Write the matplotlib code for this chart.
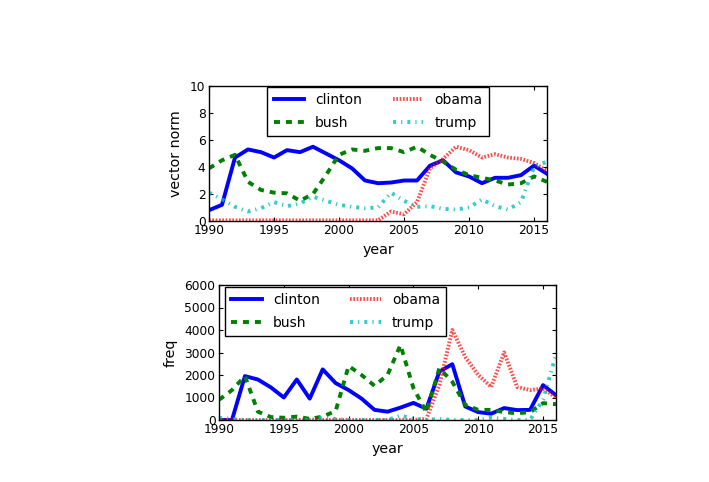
import matplotlib
matplotlib.use("Agg")
import matplotlib.pyplot as plt
import numpy as np

years = list(range(1990, 2017))

norm_clinton = [0.8, 1.2, 4.7, 5.3, 5.1, 4.7, 5.25, 5.1, 5.5, 5.0, 4.5, 3.9, 3.0, 2.8, 2.85, 3.0, 3.0, 4.1, 4.5, 3.6, 3.3, 2.8, 3.2, 3.2, 3.4, 4.1, 3.5]
norm_bush = [3.9, 4.5, 4.9, 2.9, 2.3, 2.1, 2.05, 1.5, 2.0, 3.4, 4.9, 5.3, 5.2, 5.4, 5.4, 5.1, 5.5, 4.9, 4.4, 3.8, 3.4, 3.2, 3.0, 2.7, 2.8, 3.3, 2.9]
norm_obama = [0.05, 0.05, 0.05, 0.05, 0.05, 0.05, 0.05, 0.05, 0.05, 0.05, 0.05, 0.05, 0.05, 0.05, 0.7, 0.5, 1.4, 3.9, 4.6, 5.5, 5.25, 4.7, 4.95, 4.7, 4.6, 4.3, 3.7]
norm_trump = [2.1, 1.6, 1.05, 0.7, 0.95, 1.4, 1.1, 1.3, 1.8, 1.5, 1.2, 1.05, 0.95, 1.0, 2.1, 1.5, 1.05, 1.1, 0.9, 0.85, 1.0, 1.6, 1.1, 0.85, 1.4, 4.0, 4.4]

freq_clinton = [0, 0, 1950, 1800, 1450, 1000, 1800, 950, 2250, 1640, 1330, 950, 450, 370, 550, 760, 500, 2150, 2480, 600, 350, 280, 530, 440, 450, 1550, 1100]
freq_bush = [900, 1330, 1950, 370, 130, 100, 150, 50, 150, 400, 2400, 2000, 1520, 2000, 3330, 1420, 350, 2300, 1700, 670, 450, 450, 350, 300, 350, 750, 700]
freq_obama = [0, 0, 0, 0, 0, 0, 0, 0, 0, 0, 0, 0, 0, 0, 0, 0, 50, 1550, 4000, 2800, 2000, 1470, 3000, 1470, 1330, 1400, 1000]
freq_trump = [100, 50, 0, 0, 0, 0, 0, 0, 100, 50, 0, 0, 0, 0, 200, 50, 0, 50, 0, 0, 0, 100, 50, 0, 0, 900, 2900]

names = ["clinton", "bush", "obama", "trump"]
colors = ["b", "g", "r", "c"]
styles = ["-", (0, (4.3, 4.3)), (0, (1.2, 1.2)), (0, (2.2, 3.6, 0.9, 3.6))]
alphas = [1.0, 1.0, 0.7, 0.8]

plt.rcParams["font.family"] = "DejaVu Sans"
plt.rcParams["lines.scale_dashes"] = False
plt.rcParams["lines.dash_capstyle"] = "butt"
plt.rcParams["xtick.direction"] = "in"
plt.rcParams["ytick.direction"] = "in"
plt.rcParams["xtick.top"] = True
plt.rcParams["ytick.right"] = True
plt.rcParams["xtick.major.size"] = 3
plt.rcParams["ytick.major.size"] = 3
plt.rcParams["xtick.major.pad"] = 2.5
plt.rcParams["ytick.major.pad"] = 2.5
plt.rcParams["xtick.labelsize"] = 8.8
plt.rcParams["ytick.labelsize"] = 8.8
plt.rcParams["axes.labelsize"] = 10.3

fig = plt.figure(figsize=(7.09, 4.82), dpi=100)
fig.patch.set_facecolor("white")

ax1 = fig.add_axes([209/709, 1-221/482, 338/709, 135/482])
ax2 = fig.add_axes([219/709, 1-420/482, 337/709, 135/482])

lw = 2.8
for data, ax in [((norm_clinton, norm_bush, norm_obama, norm_trump), ax1),
                 ((freq_clinton, freq_bush, freq_obama, freq_trump), ax2)]:
    for d, n, c, s, a in zip(data, names, colors, styles, alphas):
        ax.plot(years, d, color=c, linestyle=s, lw=lw, alpha=a, label=n)
    ax.set_xlim(1990, 2016)
    ax.set_xticks([1990, 1995, 2000, 2005, 2010, 2015])
    ax.set_xlabel("year", labelpad=4)
    for sp in ax.spines.values():
        sp.set_linewidth(1.0)

ax1.set_ylim(0, 10)
ax1.set_yticks([0, 2, 4, 6, 8, 10])
ax1.set_ylabel("vector norm", labelpad=5)
ax2.set_ylim(0, 6000)
ax2.set_yticks(range(0, 7000, 1000))
ax2.set_ylabel("freq", labelpad=5)

legkw = dict(ncol=2, fontsize=10, fancybox=False, framealpha=1, edgecolor="black",
             borderaxespad=0, handlelength=2.2, handletextpad=0.8,
             borderpad=0.45, labelspacing=0.6, columnspacing=2.2)
l1 = ax1.legend(loc="upper center", bbox_to_anchor=(0.5, 0.993), **legkw)
l2 = ax2.legend(loc="upper left", bbox_to_anchor=(0.018, 0.985), **legkw)
for l in (l1, l2):
    l.get_frame().set_linewidth(1.0)

fig.savefig("out.png", dpi=100, facecolor="white")
